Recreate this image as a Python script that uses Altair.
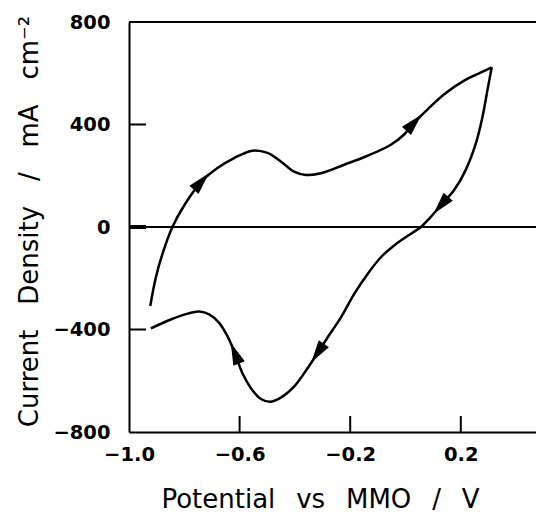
import altair as alt
import pandas as pd

# ---- data ----
anodic_x = [-0.923, -0.903, -0.879, -0.843, -0.800, -0.738, -0.680, -0.620, -0.553, -0.499,
            -0.451, -0.403, -0.360, -0.306, -0.222, -0.137, -0.053, -0.005, 0.031, 0.080,
            0.140, 0.212, 0.273, 0.312]
anodic_y = [-308, -197, -105, 0, 85, 177, 230, 269, 298, 289,
            256, 216, 203, 210, 243, 278, 321, 361, 407, 459,
            518, 571, 603, 623]

cathodic_x = [0.312, 0.297, 0.279, 0.255, 0.218, 0.176, 0.128, 0.086, 0.056, 0.020,
              -0.041, -0.089, -0.137, -0.186, -0.234, -0.283, -0.318, -0.354, -0.403, -0.445,
              -0.487, -0.523, -0.559, -0.590, -0.617, -0.644, -0.674, -0.710, -0.746, -0.788,
              -0.849, -0.921]
cathodic_y = [623, 538, 433, 328, 223, 144, 85, 33, 0, -26,
              -72, -118, -183, -262, -354, -433, -492, -551, -623, -662,
              -682, -671, -629, -570, -492, -426, -374, -341, -330, -338,
              -361, -396]

arrow_x = [-0.738, 0.031, 0.128, -0.318, -0.617]
arrow_y = [177, 407, 85, -492, -492]
arrow_angle = [42, 43, 221, 214, 338]

x_tick_values = [-1.0, -0.6, -0.2, 0.2]
x_inner_ticks = [-0.6, -0.2, 0.2]
y_tick_values = [-800, -400, 0, 400, 800]
y_inner_ticks = [-400, 400]
zero_tick = [0]

X_DOMAIN = [-1.0, 0.472]
Y_DOMAIN = [-800, 800]
W, H = 407, 410
FONT = "DejaVu Sans"
NBX = "\u00a0\u00a0\u2006"
NBY = "\u00a0\u00a0\u00a0"

# ---- tables ----
curve = pd.DataFrame({
    "x": anodic_x + cathodic_x,
    "y": anodic_y + cathodic_y,
    "branch": ["anodic"] * len(anodic_x) + ["cathodic"] * len(cathodic_x),
    "order": list(range(len(anodic_x))) + list(range(len(cathodic_x))),
})
arrows = pd.DataFrame({"x": arrow_x, "y": arrow_y, "angle": arrow_angle})
xt = pd.DataFrame({"x": x_inner_ticks})
yt = pd.DataFrame({"y": y_inner_ticks})
zt = pd.DataFrame({"y": zero_tick})

xscale = alt.Scale(domain=X_DOMAIN, nice=False, zero=False)
yscale = alt.Scale(domain=Y_DOMAIN, nice=False, zero=False)

x_axis = alt.Axis(
    values=x_tick_values, format=".1f", grid=False, ticks=False, tickSize=0,
    labelFont=FONT, labelFontSize=19.5, labelFontWeight="bold", labelColor="black",
    labelPadding=13, labelFlush=False, labelOverlap=False,
    domainColor="black", domainWidth=2,
    title=f"Potential{NBX}vs{NBX}MMO{NBX}/{NBX}V",
    titleFont=FONT, titleFontSize=26, titleFontWeight="normal", titleColor="black",
    titleX=191, titleY=75, titleAlign="center", titleBaseline="alphabetic",
)
y_axis = alt.Axis(
    values=y_tick_values, format="d", grid=False, ticks=False, tickSize=0,
    labelFont=FONT, labelFontSize=19.5, labelFontWeight="bold", labelColor="black",
    labelPadding=19, labelFlush=False, labelOverlap=False,
    domainColor="black", domainWidth=2,
    title=f"Current{NBY}Density{NBY}/{NBY}mA{NBY}cm\u207b\u00b2",
    titleFont=FONT, titleFontSize=26, titleFontWeight="normal", titleColor="black",
    titleX=-92, titleY=199, titleAlign="center", titleBaseline="alphabetic",
)

line = alt.Chart(curve).mark_line(
    color="black", strokeWidth=2.5, interpolate="catmull-rom"
).encode(
    x=alt.X("x:Q", scale=xscale, axis=x_axis),
    y=alt.Y("y:Q", scale=yscale, axis=y_axis),
    detail="branch:N",
    order="order:Q",
)

arrow_marks = alt.Chart(arrows).mark_point(
    shape="M0,-1L0.55,1L-0.55,1Z", filled=True, color="black", opacity=1, size=500
).encode(
    x=alt.X("x:Q", scale=xscale),
    y=alt.Y("y:Q", scale=yscale),
    angle=alt.Angle("angle:Q", scale=None),
)

zero_line = alt.Chart(pd.DataFrame({"y": [0]})).mark_rule(
    color="black", strokeWidth=2
).encode(
    y=alt.Y("y:Q", scale=yscale),
    x=alt.value(0), x2=alt.value(W),
)

top_border = alt.Chart(pd.DataFrame({"y": [Y_DOMAIN[1]]})).mark_rule(
    color="black", strokeWidth=2
).encode(
    y=alt.Y("y:Q", scale=yscale),
    x=alt.value(0), x2=alt.value(W),
)

y_ticks = alt.Chart(yt).mark_rule(color="black", strokeWidth=2).encode(
    y=alt.Y("y:Q", scale=yscale),
    x=alt.value(0), x2=alt.value(17),
)

z_tick = alt.Chart(zt).mark_rule(color="black", strokeWidth=4).encode(
    y=alt.Y("y:Q", scale=yscale),
    x=alt.value(0), x2=alt.value(17),
)

x_ticks = alt.Chart(xt).mark_rule(color="black", strokeWidth=2).encode(
    x=alt.X("x:Q", scale=xscale),
    y=alt.value(H), y2=alt.value(H - 16),
)

chart = alt.layer(line, arrow_marks, zero_line, top_border, y_ticks, z_tick, x_ticks).properties(
    width=W, height=H,
    padding={"left": 129, "top": 22, "right": 0, "bottom": 82},
    autosize=alt.AutoSizeParams(type="none"),
    background="white",
).configure_view(strokeWidth=0)

chart.save("out.html", embed_options={"renderer": "svg", "actions": False})
